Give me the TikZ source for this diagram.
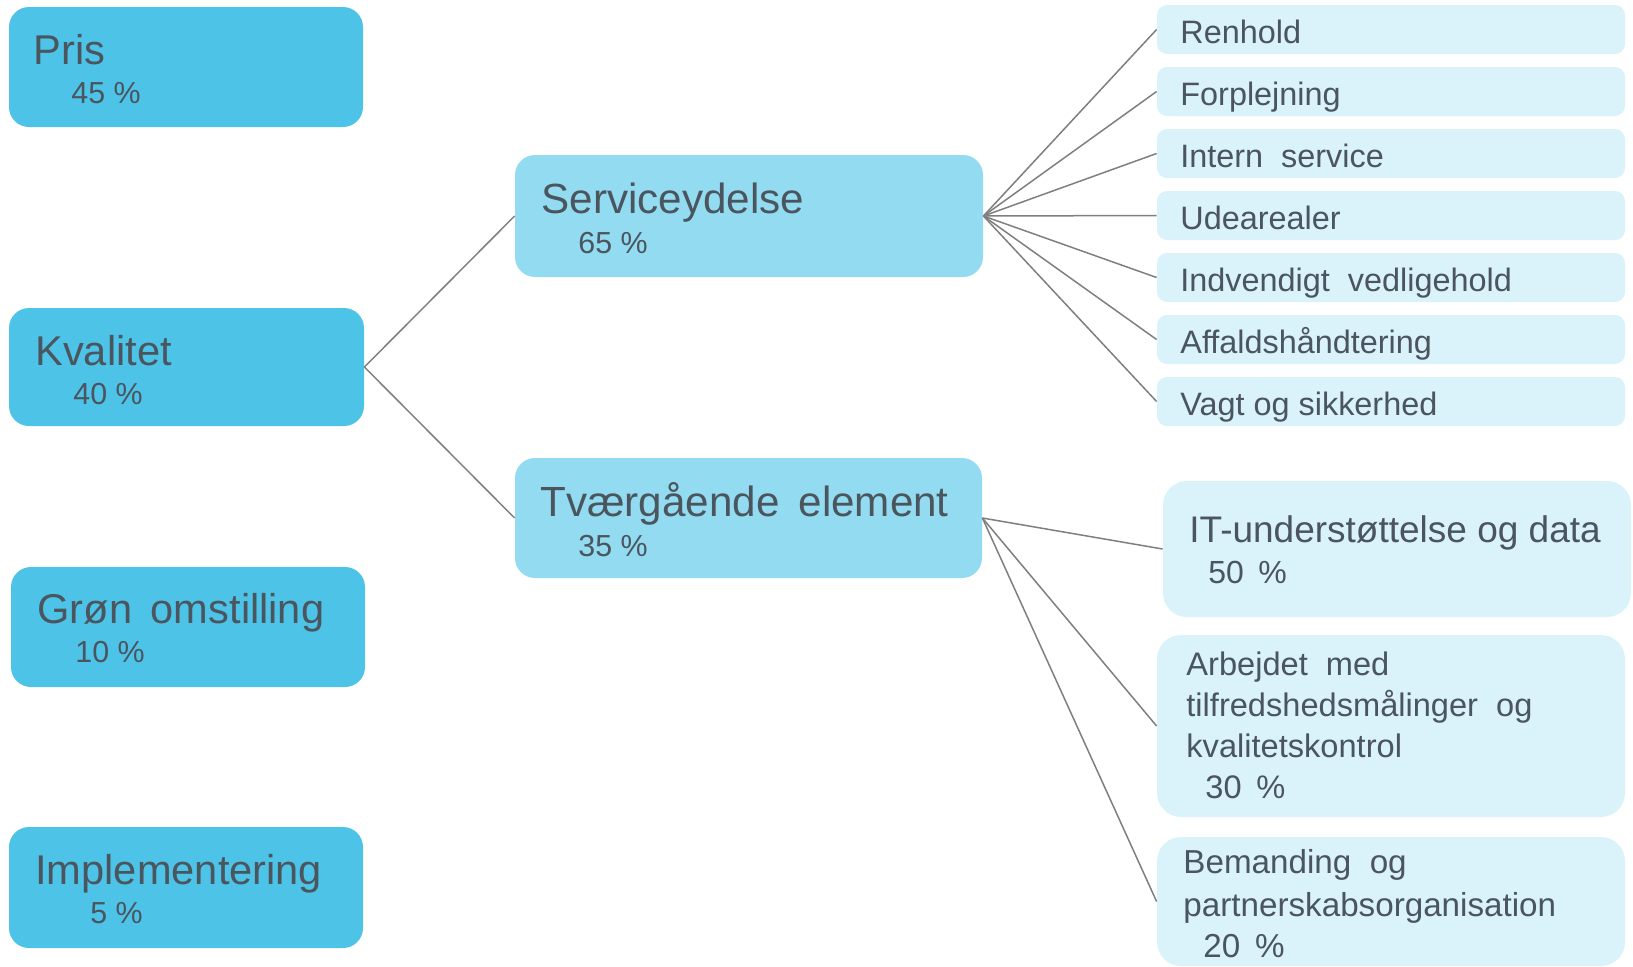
\documentclass[tikz,border=0pt]{standalone}
\usepackage{fontspec}
\setmainfont{Liberation Sans}
\usetikzlibrary{fit,calc}
\definecolor{darkcyan}{HTML}{4DC3E8}
\definecolor{midcyan}{HTML}{93DBF1}
\definecolor{palecyan}{HTML}{DAF2FA}
\definecolor{ink}{HTML}{4A555E}
\definecolor{wire}{HTML}{7F7F7F}
\tikzset{
	mainbox/.style={fill=darkcyan, rounded corners=10pt, inner sep=0pt},
	subbox/.style={fill=midcyan, rounded corners=10pt, inner sep=0pt},
	leafbox/.style={fill=palecyan, rounded corners=5pt, inner sep=0pt},
	bigleaf/.style={fill=palecyan, rounded corners=12pt, inner sep=0pt},
	lbl/.style={anchor=base west, inner sep=0pt, text=ink},
	conn/.style={draw=wire, line width=0.75pt}
}
\newcommand{\fsz}[1]{\fontsize{#1pt}{#1pt}\selectfont}

\begin{document}
\begin{tikzpicture}[x=0.5pt, y=-0.5pt]
      \useasboundingbox (0,0) rectangle (1633,966);
      % main criteria
      \node[mainbox, fit={(9,7) (363,127)}] (pris) {};
      \node[mainbox, fit={(9,308) (364,426)}] (kval) {};
      \node[mainbox, fit={(11,567) (365,687)}] (groen) {};
      \node[mainbox, fit={(9,827) (363,948)}] (impl) {};
      \foreach \n/\x/\y/\t/\px/\p in {prisT/33/64/Pris/71/45, kvalT/35/365/Kvalitet/73/40,
          groenT/37/623/Grøn\hspace{0.45em}omstilling/75/10, implT/35/884/Implementering/90/5}{
        \node[lbl, font=\fsz{20.8}] (\n) at (\x,\y) {\t};
        \node[lbl, font=\fsz{15.2}] (\n p) at (\px,\y+39) {\p\ \%};
      }
      % sub criteria
      \node[subbox, fit={(515,155) (983,277)}] (serv) {};
      \node[subbox, fit={(515,458) (982,578)}] (tvaer) {};
      \node[lbl, font=\fsz{21.1}] (servT) at (541,213) {Serviceydelse};
      \node[lbl, font=\fsz{15.2}] (servP) at (578,253) {65 \%};
      \node[lbl, font=\fsz{21.1}] (tvaerT) at (540,516) {Tværgående\hspace{0.45em}element};
      \node[lbl, font=\fsz{15.2}] (tvaerP) at (578,556) {35 \%};
      \draw[conn] (kval.east) -- (serv.west);
      \draw[conn] (kval.east) -- (tvaer.west);
      % service areas
      \foreach \i/\t in {0/Renhold, 1/Forplejning, 2/Intern\ \ service, 3/Udearealer,
          4/Indvendigt\ \ vedligehold, 5/Affaldshåndtering, 6/Vagt og sikkerhed}{
        \node[leafbox, fit={(1157,{5+62*\i}) (1625,{54+62*\i})}] (s\i) {};
        \node[lbl, font=\fsz{16.2}] (s\i T) at (1180,{43+62*\i}) {\t};
        \draw[conn] (serv.east) -- (s\i.west);
      }
      % cross-cutting elements
      \node[bigleaf, fit={(1163,481) (1631,617)}] (it) {};
      \node[bigleaf, fit={(1157,635) (1625,817)}] (arb) {};
      \node[bigleaf, fit={(1157,837) (1625,966)}] (bem) {};
      \node[lbl, font=\fsz{18.5}] (itT) at (1189,542) {IT-understøttelse og data};
      \node[lbl, font=\fsz{16}] (itP) at (1208,583) {50\hspace{0.45em}\%};
      \foreach \n/\x/\y/\t in {a1/1186/675/Arbejdet\ \ med, a2/1186/716/tilfredshedsmålinger\ \ og,
          a3/1186/757/kvalitetskontrol, a4/1205/798/30\hspace{0.45em}\%}
        \node[lbl, font=\fsz{16.3}] (\n) at (\x,\y) {\t};
      \foreach \n/\x/\y/\t in {b1/1183/873/Bemanding\ \ og, b2/1183/916/partnerskabsorganisation,
          b3/1203/957/20\hspace{0.45em}\%}
        \node[lbl, font=\fsz{16.6}] (\n) at (\x,\y) {\t};
      \foreach \b in {it, arb, bem}
        \draw[conn] (tvaer.east) -- (\b.west);
    \end{tikzpicture}
\end{document}
